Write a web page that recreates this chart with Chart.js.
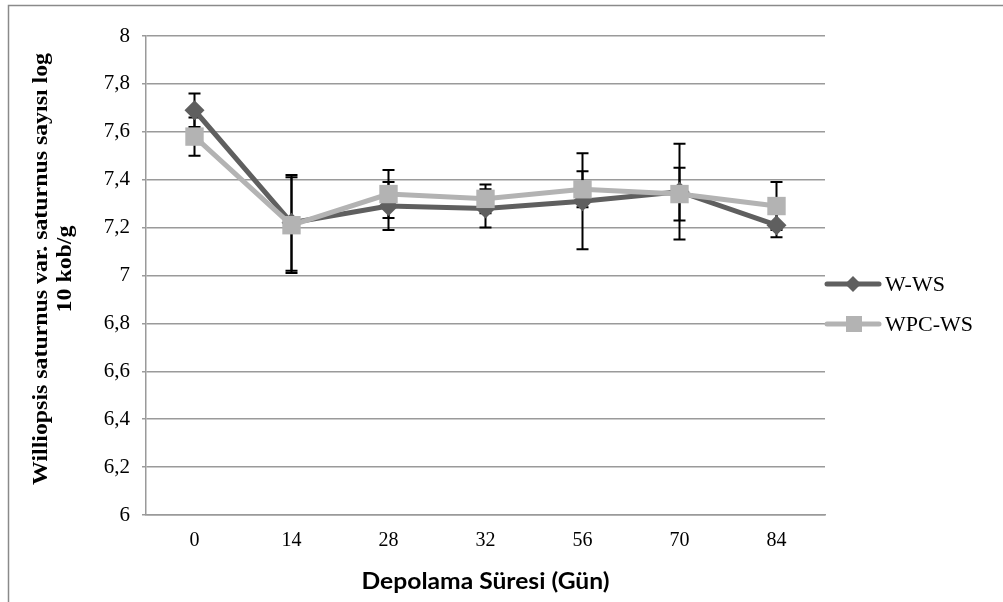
<!DOCTYPE html>
<html>
<head>
<meta charset="utf-8">
<script src="https://cdn.jsdelivr.net/npm/chart.js@4"></script>
<style>
  body { margin: 0; background: #fff; }
  canvas { display: block; }
</style>
</head>
<body>
<canvas id="myChart" width="1003" height="602"></canvas>
<script>
// data
const days = ['0', '14', '28', '32', '56', '70', '84'];
const wws = [7.69, 7.22, 7.29, 7.28, 7.31, 7.35, 7.21];
const wwsErr = [0.07, 0.2, 0.1, 0.08, 0.2, 0.2, 0.05];
const wpcws = [7.58, 7.21, 7.34, 7.32, 7.36, 7.34, 7.29];
const wpcwsErr = [0.08, 0.2, 0.1, 0.06, 0.075, 0.11, 0.1];
const yTitle = ['Williopsis saturnus var. saturnus sayısı log', '10 kob/g'];
const xTitle = 'Depolama Süresi (Gün)';

const darkGrey = '#5f5f5f';
const lightGrey = '#b3b3b3';
const gridGrey = '#9a9a9a';

// outer frame of the figure
const framePlugin = {
  id: 'frame',
  beforeDraw(chart) {
    const ctx = chart.ctx;
    ctx.save();
    ctx.strokeStyle = '#8a8a8a';
    ctx.lineWidth = 1.5;
    ctx.beginPath();
    ctx.moveTo(8.5, 602);
    ctx.lineTo(8.5, 5.5);
    ctx.lineTo(1003, 5.5);
    ctx.stroke();
    ctx.restore();
  }
};

// error bars, drawn under the lines
const errorBarPlugin = {
  id: 'errorBars',
  beforeDatasetsDraw(chart) {
    const ctx = chart.ctx;
    const yScale = chart.scales.y;
    ctx.save();
    ctx.strokeStyle = '#000';
    ctx.lineWidth = 2;
    chart.data.datasets.forEach((ds, i) => {
      const meta = chart.getDatasetMeta(i);
      meta.data.forEach((pt, j) => {
        const v = ds.data[j];
        const e = ds.errors[j];
        const top = yScale.getPixelForValue(v + e);
        const bot = yScale.getPixelForValue(v - e);
        ctx.beginPath();
        ctx.moveTo(pt.x, top);
        ctx.lineTo(pt.x, bot);
        ctx.moveTo(pt.x - 6, top);
        ctx.lineTo(pt.x + 6, top);
        ctx.moveTo(pt.x - 6, bot);
        ctx.lineTo(pt.x + 6, bot);
        ctx.stroke();
      });
    });
    ctx.restore();
  }
};

// titles and the excel style legend
const textPlugin = {
  id: 'texts',
  afterDraw(chart) {
    const ctx = chart.ctx;
    const area = chart.chartArea;
    ctx.save();

    // y title (the original is stretched along its length)
    ctx.fillStyle = '#000';
    ctx.font = 'bold 20px "Liberation Serif"';
    ctx.textAlign = 'center';
    ctx.textBaseline = 'middle';
    const yw = ctx.measureText(yTitle[0]).width;
    ctx.translate(42, 269);
    ctx.rotate(-Math.PI / 2);
    ctx.scale(432 / yw, 1);
    ctx.fillText(yTitle[0], 0, 0);
    ctx.fillText(yTitle[1], 0, 24);
    ctx.restore();

    // x title, centred under the plot like excel does
    ctx.save();
    ctx.fillStyle = '#000';
    ctx.font = 'bold 22px Lato';
    ctx.textAlign = 'center';
    ctx.textBaseline = 'alphabetic';
    const w = ctx.measureText(xTitle).width;
    ctx.translate((area.left + area.right) / 2, 589);
    ctx.scale(248 / w, 1);
    ctx.fillText(xTitle, 0, 0);
    ctx.restore();

    // legend
    ctx.save();
    const rows = [284, 324];
    chart.data.datasets.forEach((ds, i) => {
      const y = rows[i];
      ctx.strokeStyle = ds.borderColor;
      ctx.lineWidth = 5;
      ctx.lineCap = 'round';
      ctx.beginPath();
      ctx.moveTo(area.right + 2, y);
      ctx.lineTo(area.right + 54, y);
      ctx.stroke();
      ctx.fillStyle = ds.backgroundColor;
      if (ds.pointStyle === 'rectRot') {
        ctx.beginPath();
        ctx.moveTo(area.right + 28, y - 8);
        ctx.lineTo(area.right + 36, y);
        ctx.lineTo(area.right + 28, y + 8);
        ctx.lineTo(area.right + 20, y);
        ctx.closePath();
        ctx.fill();
      } else {
        ctx.fillRect(area.right + 21, y - 8, 16, 16);
      }
      ctx.fillStyle = '#000';
      ctx.font = '22px "Liberation Serif"';
      ctx.textAlign = 'left';
      ctx.textBaseline = 'middle';
      ctx.fillText(ds.label, area.right + 60, y + 1);
    });
    ctx.restore();
  }
};

function fmt(v) {
  return Number(v.toFixed(1)).toString().replace('.', ',');
}

const ctx = document.getElementById('myChart');
const myChart = new Chart(ctx, {
  type: 'line',
  data: {
    labels: days,
    datasets: [
      {
        label: 'W-WS',
        data: wws,
        errors: wwsErr,
        borderColor: darkGrey,
        backgroundColor: darkGrey,
        borderWidth: 5,
        pointStyle: 'rectRot',
        pointRadius: 10,
        pointBorderWidth: 0,
        tension: 0,
        order: 1
      },
      {
        label: 'WPC-WS',
        data: wpcws,
        errors: wpcwsErr,
        borderColor: lightGrey,
        backgroundColor: lightGrey,
        borderWidth: 5,
        pointStyle: 'rect',
        pointRadius: 13,
        pointBorderWidth: 0,
        tension: 0,
        order: 0
      }
    ]
  },
  options: {
    responsive: false,
    animation: false,
    events: [],
    layout: {
      padding: { left: 0, right: 178, top: 36, bottom: 0 }
    },
    plugins: {
      legend: { display: false },
      tooltip: { enabled: false },
      title: { display: false }
    },
    scales: {
      x: {
        offset: true,
        grid: { display: false, drawTicks: false },
        border: { display: true, color: gridGrey, width: 1.5 },
        ticks: {
          color: '#000',
          padding: 14,
          font: { family: 'Liberation Serif', size: 20 }
        },
        afterFit(scale) { scale.height = 87; }
      },
      y: {
        min: 6,
        max: 8,
        grid: { color: gridGrey, lineWidth: 1.5, tickLength: 4 },
        border: { display: true, color: gridGrey, width: 1.5 },
        ticks: {
          stepSize: 0.2,
          color: '#000',
          padding: 12,
          font: { family: 'Liberation Serif', size: 21 },
          callback: (v) => fmt(v)
        },
        afterFit(scale) { scale.width = 146; }
      }
    }
  },
  plugins: [framePlugin, errorBarPlugin, textPlugin]
});
</script>
</body>
</html>
